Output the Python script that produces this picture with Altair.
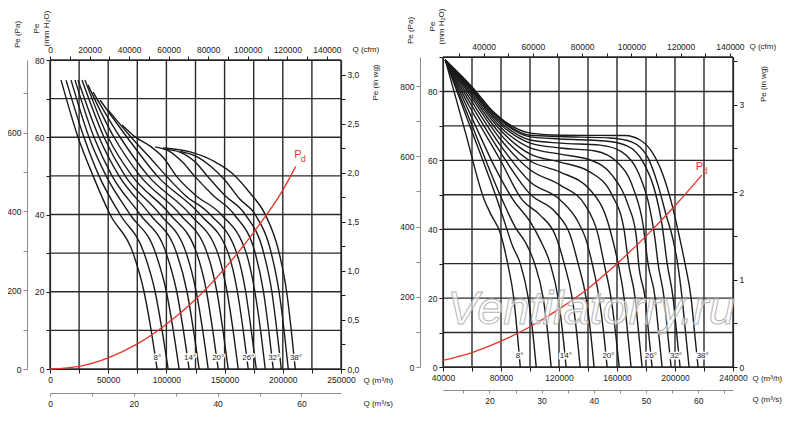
import altair as alt
import pandas as pd

FONT = "Liberation Sans"
INK = "#1a1a1a"
GRID = "#2a2a2a"
SOFT = "#8c8c8c"
RED = "#e3342b"

ANGLES = [8, 10, 12, 14, 16, 18, 20, 22, 24, 26, 28, 30, 32, 34, 36, 38]
LABEL_TEXT = ["8°", "14°", "20°", "26°", "32°", "38°"]

# ---------------- Left chart: (Q in thousand m3/h, Pe in mm H2O)
L08 = [(9.5, 74.8), (24.1, 60), (37.0, 50), (51.6, 40), (71.4, 30), (80.8, 20), (86.9, 10), (92.0, 0)]
L10 = [(13.8, 74.8), (29.2, 60), (42.1, 50), (60.2, 40), (80.8, 30), (90.3, 20), (96.3, 10), (101.5, 0)]
L12 = [(18.1, 74.8), (33.5, 60), (48.2, 50), (68.8, 40), (90.7, 30), (100.0, 20), (105.9, 10), (110.9, 0)]
L14 = [(21.5, 74.8), (37.8, 60), (53.3, 50), (77.4, 40), (99.8, 30), (108.9, 20), (114.6, 10), (119.5, 0)]
L16 = [(24.1, 74.8), (42.1, 60), (59.3, 50), (86.0, 40), (108.8, 30), (117.7, 20), (123.3, 10), (128.1, 0)]
L18 = [(27.5, 74.8), (46.4, 60), (64.5, 50), (94.6, 40), (117.0, 30), (125.6, 20), (131.2, 10), (135.9, 0)]
L20 = [(30.1, 74.8), (49.9, 60), (70.5, 50), (103.2, 40), (126.0, 30), (134.5, 20), (139.8, 10), (144.5, 0)]
L22 = [(32.7, 73.5), (55.0, 60), (77.4, 50), (111.8, 40), (135.0, 30), (143.4, 20), (148.6, 10), (153.1, 0)]
L24 = [(37.0, 71.7), (60.2, 60), (84.3, 50), (120.4, 40), (144.1, 30), (152.1, 20), (157.3, 10), (161.7, 0)]
L26 = [(43.0, 69.6), (66.2, 60), (92.0, 50), (129.0, 40), (153.1, 30), (161.0, 20), (166.0, 10), (170.3, 0)]
L28 = [(49.9, 67.1), (69.7, 60), (88.0, 54), (99.8, 50), (116.0, 45), (137.6, 40), (160.4, 30), (168.1, 20), (172.9, 10), (177.2, 0)]
L30 = [(61.9, 63.2), (73.1, 60.1), (86.0, 57.7), (98.0, 54.5), (108.4, 50), (125.0, 45), (147.1, 40), (168.6, 30), (176.0, 20), (180.9, 10), (184.9, 0)]
L32 = [(90.3, 57.5), (103.0, 56.3), (114.0, 53.5), (124.0, 50), (140.0, 45), (158.2, 40), (176.3, 30), (183.4, 20), (187.9, 10), (191.8, 0)]
L34 = [(97.2, 57.0), (112.0, 56.1), (125.0, 53.5), (135.0, 50), (150.0, 45), (167.7, 40), (183.6, 30), (190.6, 20), (194.9, 10), (198.7, 0)]
L36 = [(111.8, 56.3), (126.0, 55.0), (138.0, 52.5), (150.0, 49), (163.0, 44), (176.3, 40), (190.1, 30), (196.8, 20), (201.1, 10), (204.7, 0)]
L38 = [(97.2, 57.2), (120.4, 56.2), (141.9, 53.6), (156.5, 50.7), (172.0, 45.5), (184.9, 40), (196.9, 30), (203.3, 20), (207.3, 10), (210.7, 0)]
LEFT_CURVES = [L08, L10, L12, L14, L16, L18, L20, L22, L24, L26, L28, L30, L32, L34, L36, L38]

LEFT_PD_Q = [0, 25, 50, 75, 100, 125, 150, 175, 200, 211]
LEFT_PD_P = [0, 0.7, 2.9, 6.5, 11.6, 18.0, 26.0, 35.4, 46.3, 52.4]
LEFT_LABEL_Q = [92.3, 120.4, 144.5, 170.3, 192.6, 211.3]
LEFT_LABEL_P = 2.9
LEFT_P_POS = (212.9, 55.4)
LEFT_D_POS = (217.6, 54.4)

LEFT_Q_GRID = [0, 25000, 50000, 75000, 100000, 125000, 150000, 175000, 200000, 225000, 250000]
LEFT_MM_GRID = [0, 10, 20, 30, 40, 50, 60, 70, 80]
LEFT_PA_TICKS = [0, 100, 200, 300, 400, 500, 600, 700]
LEFT_WG_TICKS = [0, 0.25, 0.5, 0.75, 1.0, 1.25, 1.5, 1.75, 2.0, 2.25, 2.5, 2.75, 3.0]
LEFT_CFM_TICKS = [0, 10000, 20000, 30000, 40000, 50000, 60000, 70000, 80000, 90000, 100000, 110000, 120000, 130000, 140000]
LEFT_QS_TICKS = [0, 10, 20, 30, 40, 50, 60]

# ---------------- Right chart
R08 = [(41.6, 89.1), (55.4, 68.2), (68.5, 48.5), (73.3, 44.1), (79.5, 38.9), (84.6, 30), (88.8, 20), (91.2, 10), (93.3, 0)]
R10 = [(41.6, 89.1), (58.8, 69.7), (77.4, 48.5), (84.0, 40.1), (87.7, 35.4), (93.3, 30), (98.8, 20), (101.9, 10), (104.3, 0)]
R12 = [(41.6, 89.1), (58.8, 71.4), (80.9, 48.5), (90.5, 40.1), (96.7, 36.3), (103.2, 30), (109.1, 20), (112.2, 10), (114.6, 0)]
R14 = [(41.6, 89.1), (58.8, 73.4), (76.0, 57.8), (88.4, 48.5), (100.2, 42.1), (107.0, 36.9), (113.9, 30), (119.4, 20), (122.5, 10), (124.9, 0)]
R16 = [(41.6, 89.1), (58.8, 75.2), (79.5, 60.1), (94.6, 48.5), (107.0, 44.1), (117.4, 38.3), (123.6, 30), (129.1, 20), (132.2, 10), (134.6, 0)]
R18 = [(41.6, 89.1), (58.8, 76.6), (79.5, 62.4), (100.8, 49.9), (117.4, 45.0), (127.7, 38.3), (133.2, 30), (138.7, 20), (141.8, 10), (144.2, 0)]
R20 = [(41.6, 89.1), (58.8, 77.8), (79.5, 64.4), (100.2, 53.7), (120.8, 48.5), (133.2, 42.1), (138.7, 36.9), (142.9, 30), (147.7, 20), (150.8, 10), (153.2, 0)]
R22 = [(41.6, 89.1), (58.8, 78.8), (79.5, 66.2), (100.2, 57.2), (120.8, 52.8), (138.0, 47.0), (147.0, 38.3), (151.1, 30), (155.9, 20), (159.0, 10), (161.5, 0)]
R24 = [(41.6, 89.1), (58.8, 79.5), (79.5, 67.6), (100.2, 59.8), (120.8, 56.6), (141.5, 51.4), (153.2, 42.7), (158.7, 34.0), (160.8, 30), (164.9, 20), (167.3, 10), (169.7, 0)]
R26 = [(41.6, 89.1), (58.8, 80.1), (79.5, 68.8), (100.2, 61.8), (120.8, 59.5), (141.5, 56.6), (156.6, 49.9), (164.9, 39.8), (168.0, 30), (172.5, 20), (174.9, 10), (177.3, 0)]
R28 = [(41.6, 89.1), (58.8, 80.7), (79.5, 69.7), (100.2, 63.6), (120.8, 61.8), (141.5, 60.1), (156.6, 55.7), (167.7, 47.0), (173.2, 38.3), (174.9, 30), (179.4, 20), (181.8, 10), (184.2, 0)]
R30 = [(41.6, 89.1), (58.8, 81.0), (79.5, 70.5), (100.2, 65.0), (120.8, 63.6), (144.9, 62.7), (160.1, 59.5), (171.1, 52.0), (178.0, 41.2), (181.4, 30), (186.3, 20), (188.7, 10), (191.1, 0)]
R32 = [(41.6, 89.1), (58.8, 81.3), (79.5, 71.1), (100.2, 65.9), (120.8, 65.0), (148.4, 64.4), (163.5, 62.4), (174.5, 56.6), (182.8, 45.6), (186.3, 36.9), (188.3, 30), (192.5, 20), (194.9, 10), (197.3, 0)]
R34 = [(41.6, 89.1), (58.8, 81.6), (79.5, 71.7), (100.2, 66.8), (120.8, 66.2), (151.8, 65.6), (167.0, 64.2), (178.0, 59.5), (186.3, 50.8), (191.1, 41.2), (194.6, 30), (198.7, 20), (201.1, 10), (203.5, 0)]
R36 = [(41.6, 89.1), (58.8, 81.9), (79.5, 72.0), (100.2, 67.3), (120.8, 66.9), (155.3, 66.5), (170.4, 65.3), (181.4, 60.7), (188.3, 52.8), (193.9, 44.1), (198.7, 36.9), (201.8, 30), (204.9, 20), (207.3, 10), (209.7, 0)]
R38 = [(71.2, 75.5), (84.3, 70.8), (100.2, 67.9), (120.8, 67.3), (165.6, 67.2), (175.9, 65.9), (184.2, 62.4), (191.8, 55.7), (198.0, 47.0), (202.8, 38.3), (206.9, 30), (211.1, 20), (213.5, 10), (215.9, 0)]
RIGHT_CURVES = [R08, R10, R12, R14, R16, R18, R20, R22, R24, R26, R28, R30, R32, R34, R36, R38]

RIGHT_PD_Q = [40, 60, 80, 100, 120, 140, 160, 180, 200, 218.5]
RIGHT_PD_P = [1.9, 4.2, 7.5, 11.7, 16.8, 22.8, 30.0, 38.0, 46.8, 55.7]
RIGHT_LABEL_Q = [92.8, 124.7, 154.1, 183.3, 200.7, 219.1]
RIGHT_LABEL_P = 3.2
RIGHT_P_POS = (216.9, 58.2)
RIGHT_D_POS = (220.7, 57.0)
WATERMARK = "Ventilatorry.ru"
WATERMARK_POS = (142.2, 12.5)

RIGHT_Q_GRID = [40000, 60000, 80000, 100000, 120000, 140000, 160000, 180000, 200000, 220000, 240000]
RIGHT_MM_GRID = [0, 10, 20, 30, 40, 50, 60, 70, 80, 90]
RIGHT_PA_TICKS = [0, 100, 200, 300, 400, 500, 600, 700, 800]
RIGHT_WG_TICKS = [0, 0.5, 1.0, 1.5, 2.0, 2.5, 3.0, 3.5]
RIGHT_CFM_TICKS = [30000, 40000, 50000, 60000, 70000, 80000, 90000, 100000, 110000, 120000, 130000, 140000]
RIGHT_QS_TICKS = [15, 20, 25, 30, 35, 40, 45, 50, 55, 60, 65]

# overall drawing area (both panels share one layered view)
W = 683
H = 312


def ax(**kw):
    base = dict(labelFont=FONT, labelFontSize=8.5, labelColor=INK, titleFont=FONT,
                titleFontSize=8, titleFontWeight="normal", titleColor=INK,
                labelFlush=False, labelOverlap=False, grid=False)
    base.update(kw)
    return alt.Axis(**base)


def every(n, fmt="d"):
    return f"datum.value % {n} == 0 ? format(datum.value, '{fmt}') : ''"


def panel(curves, pd_q, pd_p, lab_q, lab_p, p_pos, d_pos, q_dom, mm_dom, xr, yr, q_grid, q_every,
          mm_grid, pa_dom, pa_ticks, wg_dom, wg_ticks, wg_expr, cfm_dom, cfm_ticks,
          qs_dom, qs_ticks, qs_every, T, watermark=None):
    rows = []
    for a, pts in zip(ANGLES, curves):
        for i, (q, p) in enumerate(pts):
            rows.append({"angle": a, "i": i, "Q": q * 1000, "P": p})
    cdf = pd.DataFrame(rows)
    pdf = pd.DataFrame({"Q": [q * 1000 for q in pd_q], "P": pd_p})
    ldf = pd.DataFrame({"Q": [q * 1000 for q in lab_q], "P": [lab_p] * len(lab_q), "t": LABEL_TEXT})
    pdl = pd.DataFrame({"Q": [p_pos[0] * 1000], "P": [p_pos[1]], "t": ["P"]})
    ddl = pd.DataFrame({"Q": [d_pos[0] * 1000], "P": [d_pos[1]], "t": ["d"]})
    vg = pd.DataFrame({"Q": q_grid, "P": [mm_dom[0]] * len(q_grid), "P2": [mm_dom[1]] * len(q_grid)})
    hg = pd.DataFrame({"P": mm_grid, "Q": [q_dom[0]] * len(mm_grid), "Q2": [q_dom[1]] * len(mm_grid)})

    xs = alt.Scale(domain=q_dom, range=xr, nice=False, zero=False)
    ys = alt.Scale(domain=mm_dom, range=yr, nice=False, zero=False)
    X = alt.X("Q:Q", scale=xs,
              axis=ax(orient="bottom", offset=T["qoff"], values=q_grid, labelExpr=every(q_every),
                      domainColor=INK, domainWidth=1.2, tickColor=INK, tickSize=4, labelPadding=2,
                      title="Q (m³/h)", titleX=T["qx"], titleY=11, titleAlign="left",
                      titleBaseline="middle", titleAngle=0))
    Y = alt.Y("P:Q", scale=ys,
              axis=ax(orient="left", offset=T["yoff"], values=mm_grid, labelExpr=every(20),
                      domainColor=INK, domainWidth=1.2, tickColor=INK, tickSize=4, labelPadding=2,
                      title=["Pe", "(mm H₂O)"], titleAngle=270, titleAlign="center",
                      titleBaseline="middle", titleX=T["mmx"], titleY=T["mmy"],
                      titleLineHeight=T["mmlh"]))
    Xn = alt.X("Q:Q", scale=xs, axis=None)
    Yn = alt.Y("P:Q", scale=ys, axis=None)

    vgrid = alt.Chart(vg).mark_rule(color=GRID, strokeWidth=1.4).encode(x=Xn, y=Yn, y2="P2:Q")
    hgrid = alt.Chart(hg).mark_rule(color=GRID, strokeWidth=1.4).encode(y=Yn, x=Xn, x2="Q2:Q")
    lines = alt.Chart(cdf).mark_line(color=INK, strokeWidth=1.4, interpolate="monotone").encode(
        x=X, y=Y, detail="angle:N", order="i:Q")
    pdline = alt.Chart(pdf).mark_line(color=RED, strokeWidth=1.3, interpolate="monotone").encode(x=Xn, y=Yn)
    halo = alt.Chart(ldf).mark_text(font=FONT, fontSize=8, fill="white", stroke="white",
                                    strokeWidth=3, baseline="middle").encode(x=Xn, y=Yn, text="t:N")
    labs = alt.Chart(ldf).mark_text(font=FONT, fontSize=8, color=INK, baseline="middle").encode(
        x=Xn, y=Yn, text="t:N")
    ptext = alt.Chart(pdl).mark_text(font=FONT, fontSize=11, color=RED, baseline="middle").encode(
        x=Xn, y=Yn, text="t:N")
    dtext = alt.Chart(ddl).mark_text(font=FONT, fontSize=8.5, color=RED, baseline="middle").encode(
        x=Xn, y=Yn, text="t:N")
    parts = [vgrid, hgrid, lines, pdline, halo, labs, ptext, dtext]
    if watermark is not None:
        wdf = pd.DataFrame({"Q": [watermark[1][0] * 1000], "P": [watermark[1][1]], "t": [watermark[0]]})
        parts.append(alt.Chart(wdf).mark_text(font=FONT, fontSize=47, fontStyle="italic",
                                              fill="white", fillOpacity=0.55, stroke="#b5b5b5",
                                              strokeWidth=1, align="center",
                                              baseline="alphabetic").encode(x=Xn, y=Yn, text="t:N"))

    def ylayer(dom, axis):
        d = pd.DataFrame({"v": dom})
        return alt.Chart(d).mark_point(opacity=0).encode(
            x=alt.value(0),
            y=alt.Y("v:Q", scale=alt.Scale(domain=dom, range=yr, nice=False, zero=False), axis=axis))

    def xlayer(dom, axis):
        d = pd.DataFrame({"v": dom})
        return alt.Chart(d).mark_point(opacity=0).encode(
            y=alt.value(0),
            x=alt.X("v:Q", scale=alt.Scale(domain=dom, range=xr, nice=False, zero=False), axis=axis))

    pa = ylayer(pa_dom, ax(orient="left", offset=T["yoff"] + 23, values=pa_ticks,
                           labelExpr=every(200), domainColor=SOFT, domainWidth=1, tickColor=SOFT,
                           tickSize=4, labelPadding=2, title="Pe (Pa)", titleAngle=270,
                           titleAlign="center", titleBaseline="middle",
                           titleX=T["pax"], titleY=T["pay"]))
    wg = ylayer(wg_dom, ax(orient="right", offset=T["wgoff"], values=wg_ticks, labelExpr=wg_expr,
                           domainColor=INK, domainWidth=1.2, tickColor=INK, tickSize=4,
                           labelPadding=2, title="Pe (in wg)", titleAngle=270, titleAlign="center",
                           titleBaseline="middle", titleX=T["wgx"], titleY=T["wgy"]))
    cfm = xlayer(cfm_dom, ax(orient="top", offset=T["cfmoff"], values=cfm_ticks,
                             labelExpr=every(20000), domainColor=INK, domainWidth=1.2,
                             tickColor=INK, tickSize=4, labelPadding=2, title="Q (cfm)",
                             titleX=T["cfmx"], titleY=-11, titleAlign="left",
                             titleBaseline="middle", titleAngle=0))
    qs = xlayer(qs_dom, ax(orient="bottom", offset=T["qsoff"], values=qs_ticks,
                           labelExpr=every(qs_every), domainColor=SOFT,
                           domainWidth=1, tickColor=SOFT, tickSize=3, labelPadding=3,
                           title="Q (m³/s)", titleX=T["qx"], titleY=T["qsy"], titleAlign="left",
                           titleBaseline="middle", titleAngle=0))
    return parts + [pa, wg, cfm, qs]


left_parts = panel(
    LEFT_CURVES, LEFT_PD_Q, LEFT_PD_P, LEFT_LABEL_Q, LEFT_LABEL_P, LEFT_P_POS, LEFT_D_POS,
    [0, 250000], [0, 80], [0, 291], [312, 3], LEFT_Q_GRID, 50000, LEFT_MM_GRID,
    [0, 784.53], LEFT_PA_TICKS, [0, 3.1496], LEFT_WG_TICKS,
    "datum.value % 0.5 == 0 ? replace(format(datum.value, '.1f'), '.', ',') : ''",
    [0, 147144.5], LEFT_CFM_TICKS, [0, 69.444], LEFT_QS_TICKS, 20,
    dict(qoff=0, yoff=0, wgoff=291 - W, cfmoff=-3, qsoff=24, qx=313, qsy=10,
         mmx=-14, mmy=-29, mmlh=10, pax=-10, pay=-23, wgx=34, wgy=25, cfmx=302))

right_parts = panel(
    RIGHT_CURVES, RIGHT_PD_Q, RIGHT_PD_P, RIGHT_LABEL_Q, RIGHT_LABEL_P, RIGHT_P_POS, RIGHT_D_POS,
    [40000, 240000], [0, 90], [393, W], [310, 0], RIGHT_Q_GRID, 40000, RIGHT_MM_GRID,
    [0, 882.6], RIGHT_PA_TICKS, [0, 3.5433], RIGHT_WG_TICKS,
    "datum.value % 1 == 0 ? format(datum.value, 'd') : ''",
    [23543.1, 141258.7], RIGHT_CFM_TICKS, [11.111, 66.667], RIGHT_QS_TICKS, 10,
    dict(qoff=-2, yoff=-393, wgoff=0, cfmoff=0, qsoff=21, qx=702, qsy=9,
         mmx=-11, mmy=-31, mmlh=9, pax=-10, pay=-27, wgx=30, wgy=26.5, cfmx=699),
    watermark=(WATERMARK, WATERMARK_POS))

chart = alt.layer(*left_parts, *right_parts).resolve_scale(
    x="independent", y="independent"
).properties(
    width=W, height=H,
    autosize=alt.AutoSizeParams(type="none"),
    padding={"left": 42, "top": 49, "right": 55, "bottom": 50},
).configure_view(strokeWidth=0)

chart.save("out.html", embed_options={"renderer": "svg", "actions": False})
